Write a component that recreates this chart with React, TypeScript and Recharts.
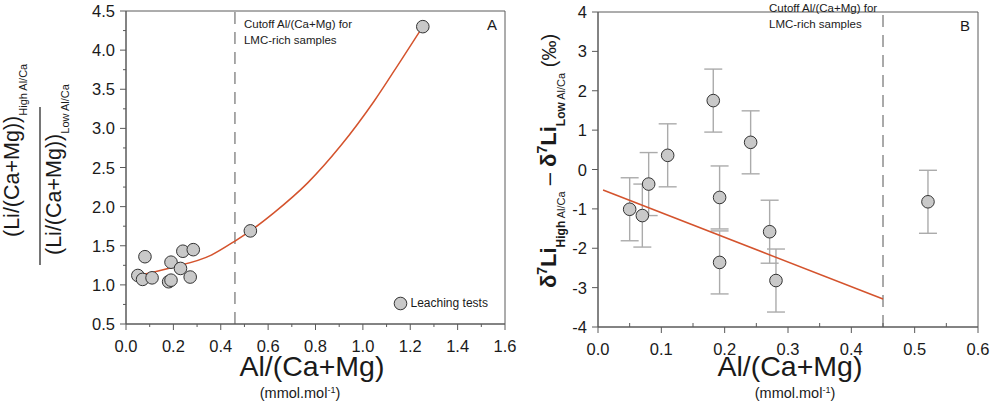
import {
  ErrorBar,
  Label,
  Legend,
  ReferenceArea,
  ReferenceLine,
  Scatter,
  ScatterChart,
  XAxis,
  YAxis
} from 'recharts';

// panel A: leaching tests, ratio of Li/(Ca+Mg) high vs low Al/Ca
const leachAl = [0.05, 0.08, 0.07, 0.11, 0.18, 0.19, 0.19, 0.23, 0.24, 0.284, 0.271, 0.525, 1.253];
const leachRatio = [1.12, 1.36, 1.07, 1.09, 1.04, 1.06, 1.29, 1.21, 1.43, 1.45, 1.1, 1.69, 4.3];
const curveAl = [0.08, 0.19, 0.36, 0.46, 0.525, 0.624, 0.766, 0.907, 1.048, 1.161, 1.253];
const curveRatio = [1.14, 1.22, 1.38, 1.56, 1.69, 1.92, 2.3, 2.78, 3.35, 3.87, 4.3];

// panel B: d7Li offset with 2sd error bars
const deltaAl = [0.05, 0.07, 0.08, 0.11, 0.182, 0.192, 0.192, 0.241, 0.271, 0.281, 0.521];
const deltaLi = [-1.01, -1.17, -0.37, 0.36, 1.75, -0.71, -2.36, 0.69, -1.58, -2.82, -0.82];
const deltaErr = [0.8, 0.8, 0.8, 0.8, 0.8, 0.8, 0.8, 0.8, 0.8, 0.8, 0.8];
const fitAl = [0.008, 0.45];
const fitDelta = [-0.52, -3.29];

const cutoffA = 0.46;
const cutoffB = 0.45;

const ticksAx = [0, 0.1, 0.2, 0.3, 0.4, 0.5, 0.6, 0.7, 0.8, 0.9, 1.0, 1.1, 1.2, 1.3, 1.4, 1.5, 1.6];
const ticksAy = [0.5, 0.75, 1.0, 1.25, 1.5, 1.75, 2.0, 2.25, 2.5, 2.75, 3.0, 3.25, 3.5, 3.75, 4.0, 4.25, 4.5];
const ticksBx = [0, 0.05, 0.1, 0.15, 0.2, 0.25, 0.3, 0.35, 0.4, 0.45, 0.5, 0.55, 0.6];
const ticksBy = [-4, -3, -2, -1, 0, 1, 2, 3, 4];

const FONT = '"Liberation Sans", Arial, Helvetica, sans-serif';
const AXIS = '#5a5a5a';
const INK = '#1a1a1a';
const FIT = '#d4532d';

const ratioPoints = leachAl.map((x, i) => ({ x, y: leachRatio[i] }));
const curvePoints = curveAl.map((x, i) => ({ x, y: curveRatio[i] }));
const deltaPoints = deltaAl.map((x, i) => ({ x, y: deltaLi[i], err: deltaErr[i] }));
const fitPoints = fitAl.map((x, i) => ({ x, y: fitDelta[i] }));

const Dot = (p: any) => (
  <circle cx={p.cx} cy={p.cy} r={6.3} fill="#c9c9c9" stroke="#333" strokeWidth={1} />
);
const NoDot = () => <g />;

function BottomTick({ x, y, payload, major, inward }: any) {
  const v = payload.value as number;
  return (
    <g>
      {major ? (
        <line x1={x} x2={x} y1={y} y2={y + 6} stroke={AXIS} />
      ) : (
        <line x1={x} x2={x} y1={y} y2={inward ? y - 4 : y + 3} stroke={AXIS} />
      )}
      {major && (
        <text x={x} y={y + 28} textAnchor="middle" fontSize={16.5} fill={INK}>
          {v.toFixed(1)}
        </text>
      )}
    </g>
  );
}

function LeftTick({ x, y, payload, major, digits }: any) {
  const v = payload.value as number;
  return (
    <g>
      <line x1={major ? x - 6 : x - 3} x2={x} y1={y} y2={y} stroke={AXIS} />
      {major && (
        <text x={x - 11} y={y + 6} textAnchor="end" fontSize={16.5} fill={INK}>
          {v.toFixed(digits)}
        </text>
      )}
    </g>
  );
}

function AlTitle({ cx, subCx, base }: { cx: number; subCx: number; base: number }) {
  return (
    <g fill={INK}>
      <text x={cx} y={base} textAnchor="middle" fontSize={28.5}>
        Al/(Ca+Mg)
      </text>
      <text x={subCx} y={398} textAnchor="middle" fontSize={14.5}>
        (mmol.mol
        <tspan fontSize={9} dy={-5}>-1</tspan>
        <tspan dy={5}>)</tspan>
      </text>
    </g>
  );
}

function RatioTitle() {
  return (
    <g fill={INK}>
      <text transform="translate(19,237) rotate(-90)" fontSize={21.5}>
        (Li/(Ca+Mg))
        <tspan fontSize={11} dy={8}>High Al/Ca</tspan>
      </text>
      <line x1={40} x2={40} y1={107} y2={265} stroke={INK} strokeWidth={1.2} />
      <text transform="translate(61,255) rotate(-90)" fontSize={21.5}>
        (Li/(Ca+Mg))
        <tspan fontSize={11} dy={8}>Low Al/Ca</tspan>
      </text>
    </g>
  );
}

function DeltaTitle() {
  return (
    <text transform="translate(26,161) rotate(-90)" textAnchor="middle" fontSize={22} fontWeight="bold" fill={INK}>
      δ<tspan fontSize={14} dy={-9}>7</tspan>
      <tspan dy={9}>Li</tspan>
      <tspan fontSize={12} dy={9}>High</tspan>
      <tspan fontSize={11} fontWeight="normal"> Al/Ca</tspan>
      <tspan dy={-9} fontWeight="normal"> – </tspan>
      δ<tspan fontSize={14} dy={-9}>7</tspan>
      <tspan dy={9}>Li</tspan>
      <tspan fontSize={12} dy={9}>Low</tspan>
      <tspan fontSize={11} fontWeight="normal"> Al/Ca</tspan>
      <tspan dy={-9} fontSize={20} fontWeight="normal"> (‰)</tspan>
    </text>
  );
}

function CutoffText({ viewBox, dx, dy }: any) {
  const x = viewBox.x + dx;
  const y = viewBox.y + dy;
  return (
    <text fontSize={11.5} fill={INK}>
      <tspan x={x} y={y}>Cutoff Al/(Ca+Mg) for</tspan>
      <tspan x={x} y={y + 16}>LMC-rich samples</tspan>
    </text>
  );
}

function LeachLegend() {
  return (
    <div style={{ display: 'flex', alignItems: 'center', fontSize: 12, color: INK, fontFamily: FONT, whiteSpace: 'nowrap' }}>
      <svg width={15} height={15}>
        <circle cx={7.5} cy={7.5} r={6.3} fill="#c9c9c9" stroke="#333" strokeWidth={1} />
      </svg>
      <span style={{ marginLeft: 3 }}>Leaching tests</span>
    </div>
  );
}

export default function App() {
  return (
    <div style={{ position: 'absolute', left: 0, top: 0, width: 997, height: 412, background: '#fff', fontFamily: FONT }}>
      <div style={{ position: 'absolute', left: 0, top: 0 }}>
        <ScatterChart width={525} height={412} margin={{ top: 11, right: 20, bottom: 58, left: 76 }}>
          <XAxis
            type="number"
            dataKey="x"
            domain={[0, 1.6]}
            ticks={ticksAx}
            interval={0}
            allowDataOverflow
            height={30}
            tickSize={0}
            tickMargin={0}
            tickLine={false}
            axisLine={{ stroke: AXIS }}
            tick={(p: any) => <BottomTick {...p} major={Math.round(p.payload.value * 10) % 2 === 0} />}
          >
            <Label content={() => <AlTitle cx={312} subCx={300} base={376} />} />
          </XAxis>
          <YAxis
            type="number"
            dataKey="y"
            domain={[0.5, 4.5]}
            ticks={ticksAy}
            interval={0}
            allowDataOverflow
            width={50}
            tickSize={0}
            tickMargin={0}
            tickLine={false}
            axisLine={{ stroke: AXIS }}
            tick={(p: any) => <LeftTick {...p} digits={1} major={Math.round(p.payload.value * 4) % 2 === 0} />}
          >
            <Label content={() => <RatioTitle />} />
          </YAxis>
          <ReferenceArea
            x1={0}
            x2={1.6}
            y1={0.5}
            y2={4.5}
            fill="none"
            stroke={AXIS}
            label={{ value: 'A', position: 'insideTopRight', offset: 8, fontSize: 15, fill: INK }}
          />
          <ReferenceLine
            x={cutoffA}
            stroke="#555"
            strokeDasharray="12 8"
            label={{ content: (p: any) => <CutoffText {...p} dx={9} dy={17} /> }}
          />
          <Scatter
            data={curvePoints}
            shape={NoDot}
            line={{ stroke: FIT, strokeWidth: 1.5 }}
            lineJointType="monotoneX"
            legendType="none"
            isAnimationActive={false}
          />
          <Scatter name="Leaching tests" data={ratioPoints} shape={Dot} isAnimationActive={false} />
          <Legend
            layout="horizontal"
            verticalAlign="middle"
            align="center"
            content={() => <LeachLegend />}
            wrapperStyle={{ left: 392.5, top: 295.5, width: 120 }}
          />
        </ScatterChart>
      </div>
      <div style={{ position: 'absolute', left: 530, top: 0 }}>
        <ScatterChart width={467} height={412} margin={{ top: 12, right: 19, bottom: 55, left: 28 }}>
          <XAxis
            type="number"
            dataKey="x"
            domain={[0, 0.6]}
            ticks={ticksBx}
            interval={0}
            allowDataOverflow
            height={30}
            tickSize={0}
            tickMargin={0}
            tickLine={false}
            axisLine={{ stroke: AXIS }}
            tick={(p: any) => <BottomTick {...p} inward major={Math.round(p.payload.value * 20) % 2 === 0} />}
          >
            <Label content={() => <AlTitle cx={260} subCx={265} base={376} />} />
          </XAxis>
          <YAxis
            type="number"
            dataKey="y"
            domain={[-4, 4]}
            ticks={ticksBy}
            interval={0}
            allowDataOverflow
            width={40}
            tickSize={0}
            tickMargin={0}
            tickLine={false}
            axisLine={{ stroke: AXIS }}
            tick={(p: any) => <LeftTick {...p} digits={0} major />}
          >
            <Label content={() => <DeltaTitle />} />
          </YAxis>
          <ReferenceArea
            x1={0}
            x2={0.6}
            y1={-4}
            y2={4}
            fill="none"
            stroke={AXIS}
            label={{ value: 'B', position: 'insideTopRight', offset: 8, fontSize: 15, fill: INK }}
          />
          <ReferenceLine
            x={cutoffB}
            stroke="#555"
            strokeDasharray="12 8"
            label={{ content: (p: any) => <CutoffText {...p} dx={-114} dy={0} /> }}
          />
          <Scatter data={deltaPoints} shape={Dot} isAnimationActive={false}>
            <ErrorBar dataKey="err" direction="y" width={9} stroke="#ababab" strokeWidth={1.4} />
          </Scatter>
          <Scatter
            data={fitPoints}
            shape={NoDot}
            line={{ stroke: FIT, strokeWidth: 1.5 }}
            legendType="none"
            isAnimationActive={false}
          />
        </ScatterChart>
      </div>
    </div>
  );
}
